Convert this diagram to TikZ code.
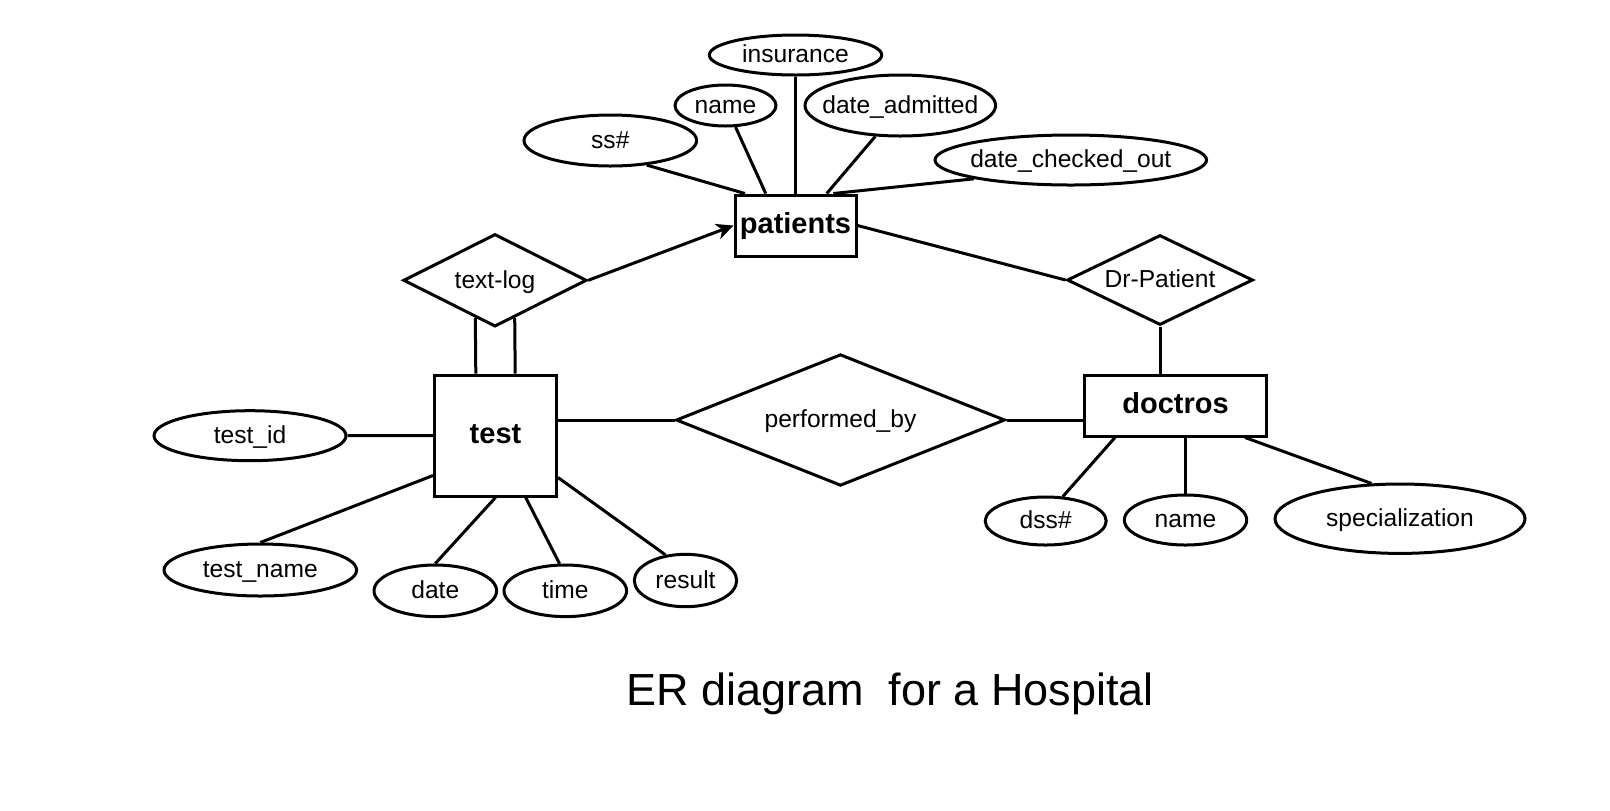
\documentclass[tikz,border=0pt]{standalone}
\usepackage{fontspec}
\setmainfont{Liberation Sans}
\usetikzlibrary{shapes.geometric,arrows.meta,calc}
\newcommand\lblfont{\fontsize{12.3}{14}\selectfont}
\newcommand\entfont{\fontsize{14.5}{17}\selectfont\bfseries}
\newcommand\ttlfont{\fontsize{22.5}{27}\selectfont}
\newcommand\Z[1]{\makebox[0pt][c]{\rule[-0.212em]{0pt}{1.07em}#1}}
\newcommand\E[1]{\rule[-0.212em]{0pt}{0.98em}#1}
\tikzset{
  attr/.style={ellipse, draw, line width=1.5pt, inner sep=0pt, font=\lblfont},
  ent/.style={rectangle, draw, line width=1.5pt, inner sep=0pt, font=\entfont},
  rel/.style={diamond, draw, line width=1.5pt, inner sep=0pt, font=\lblfont},
  conn/.style={line width=1.5pt},
  sz/.style 2 args={minimum width=#1, minimum height=#2},
}
\begin{document}
\begin{tikzpicture}[x=0.5pt, y=-0.5pt]
\fill[white] (0,0) rectangle (1610,810);
\useasboundingbox (0,0) rectangle (1610,810);

% patients and attributes
\node[ent, sz={60.5pt}{30.5pt}] (patients) at (795.5,225.5) {\E{patients}};
\node[attr, sz={86.2pt}{20pt}] (ins) at (795.5,55) {\Z{insurance}};
\node[attr, sz={50.5pt}{20.5pt}] (pname) at (725.5,105.5) {\Z{name}};
\node[attr, sz={95.3pt}{30.5pt}] (dadm) at (900.3,105.5) {\Z{date\_admitted}};
\node[attr, sz={86.3pt}{25.5pt}] (ss) at (610.3,140.5) {\Z{ss\#}};
\node[attr, sz={135.8pt}{25pt}] (dco) at (1070.8,160) {\Z{date\_checked\_out}};

% relationships
\node[rel, sz={91.7pt}{46.3pt}] (tl) at (495,280.3) {\Z{text-log}};
\node[rel, sz={93pt}{45pt}] (drp) at (1160,280) {\Z{Dr-Patient}};
\node[rel, sz={164.5pt}{65.8pt}] (pb) at (840.5,420) {\Z{performed\_by}};

% test and attributes
\node[ent, sz={61pt}{60.5pt}] (test) at (495.5,435.5) {\E{test}};
\node[attr, sz={96pt}{25pt}] (tid) at (250,435.7) {\Z{test\_id}};
\node[attr, sz={96.3pt}{26pt}] (tname) at (260.3,570) {\Z{test\_name}};
\node[attr, sz={61.3pt}{25.8pt}] (date) at (435.3,590.8) {\Z{date}};
\node[attr, sz={61.3pt}{25.8pt}] (time) at (565.3,590.8) {\Z{time}};
\node[attr, sz={51.2pt}{26.2pt}] (result) at (685.5,580.5) {\Z{result}};

% doctros and attributes
\node[ent, sz={91.2pt}{30.5pt}] (doc) at (1175.5,405.5) {\E{doctros}};
\node[attr, sz={60.5pt}{24pt}] (dss) at (1045.7,521) {\Z{dss\#}};
\node[attr, sz={61.2pt}{25pt}] (dname) at (1185.5,520) {\Z{name}};
\node[attr, sz={125pt}{34.7pt}] (spec) at (1400,518.7) {\Z{specialization}};

% title
\node[font=\ttlfont, inner sep=0pt, anchor=base] (title) at (890,705) {ER diagram\ \ for a Hospital};

% connectors: patients
\draw[conn] (ss.-34.5) -- ($(patients.north)+(-50.5,0)$);
\draw[conn] (pname.-65.9) -- ($(patients.north)+(-29.8,0)$);
\draw[conn] (ins.south) -- (patients.north);
\draw[conn] (dadm.-129) -- ($(patients.north)+(31.2,0)$);
\draw[conn] (dco.-169.7) -- ($(patients.north)+(37.8,0)$);
\draw[conn, -{Stealth[length=8.5pt, width=8pt, inset=2.5pt]}] (tl.east) -- (patients.west);
\draw[conn] (patients.east) -- (drp.west);
\draw[conn] (drp.south) -- (drp.south |- doc.north);

% test
\draw[conn] ($(test.north)+(-19.7,0)$) -- ($(tl.south)+(-19.7,-9.95)$);
\draw[conn] ($(test.north)+(19.7,0)$) -- ($(tl.south)+(19.7,-9.95)$);
\draw[conn] (tid.east) -- (test.west);
\draw[conn] (tname.north) -- ($(test.south west)+(0,-22)$);
\draw[conn] (date.north) -- (test.south);
\draw[conn] (time.102.8) -- ($(test.south)+(30.2,0)$);
\draw[conn] (result.128.8) -- ($(test.south east)+(0,-20)$);
\draw[conn] (pb.west) -- (pb.west -| test.east);
\draw[conn] (pb.east) -- (pb.east -| doc.west);

% doctros
\draw[conn] (dss.55.9) -- ($(doc.south)+(-60.5,0)$);
\draw[conn] (dname.north) -- (dname.north |- doc.south);
\draw[conn] (spec.129.9) -- ($(doc.south)+(69.5,0)$);
\end{tikzpicture}
\end{document}
